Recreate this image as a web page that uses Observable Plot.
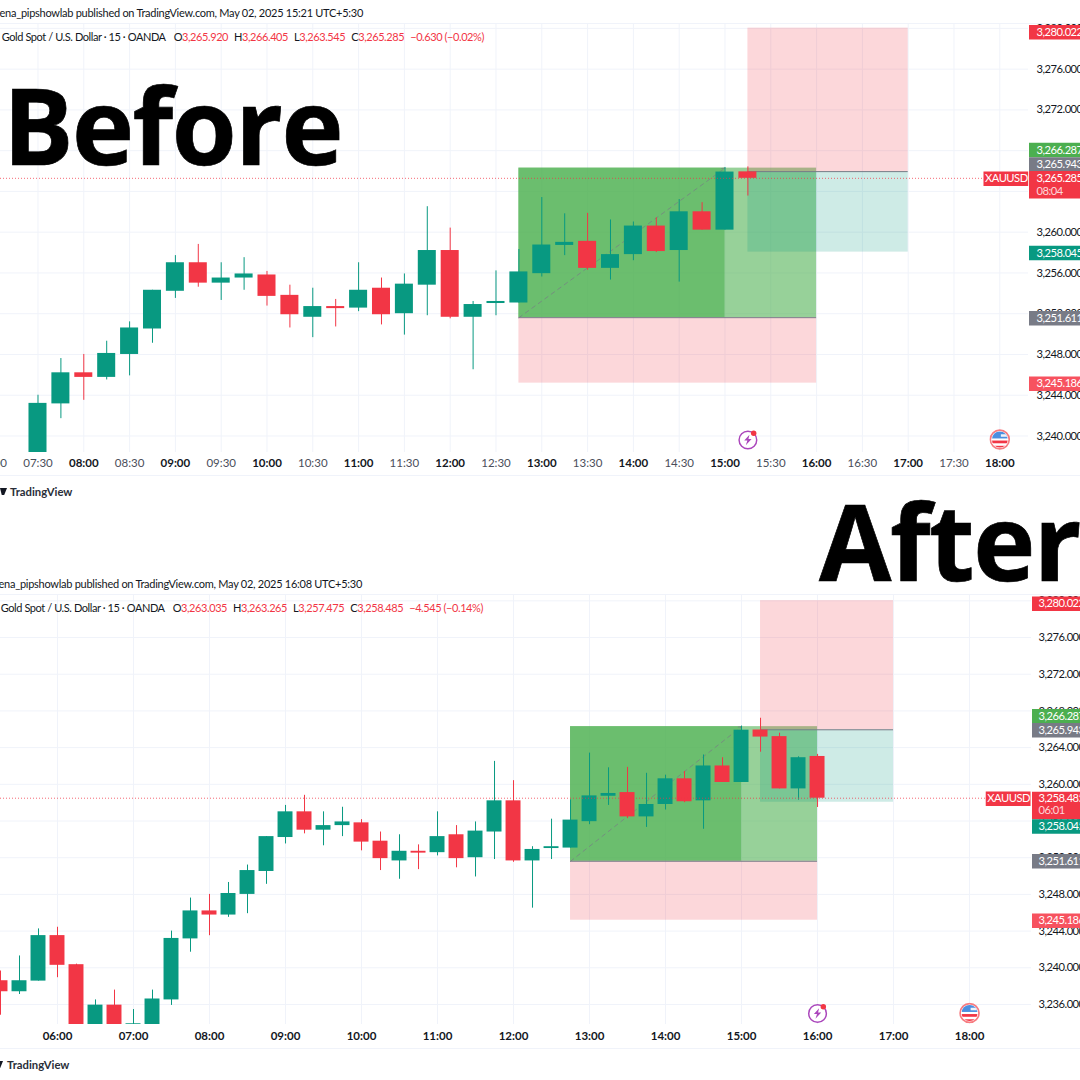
<!DOCTYPE html>
<html><head><meta charset="utf-8">
<script src="https://cdn.jsdelivr.net/npm/d3@7"></script>
<script src="https://cdn.jsdelivr.net/npm/@observablehq/plot@0.6"></script>
<style>
html,body{margin:0;padding:0;background:#fff;width:1080px;height:1080px;overflow:hidden}
#page{position:relative;width:1080px;height:1080px;overflow:hidden;font-family:Lato,sans-serif;color:#131722}
.pane{position:absolute;left:0}
.pane svg{display:block;overflow:hidden;background:transparent}
.pane svg [aria-label="y-axis tick label"],.pane svg [aria-label="text"]{letter-spacing:-.5px}
.t{position:absolute;white-space:nowrap;line-height:1}
.big{font-family:"Open Sans",sans-serif;font-weight:700;color:#000;font-size:105px;letter-spacing:-1.5px;-webkit-text-stroke:.7px #000}
.r{color:#f23645}
.g{margin-left:6px}
.hr{position:absolute;left:0;width:1080px;height:1px;background:#f0f3fa}
.logo{position:absolute;width:7px;height:7px;background:#131722;clip-path:polygon(0 0,100% 0,60% 100%,25% 100%)}
</style></head><body><div id="page"></div>
<script>
// shared 15-minute candles (XAUUSD)
const times=["05:15","05:30","05:45","06:00","06:15","06:30","06:45","07:00","07:15","07:30","07:45","08:00","08:15","08:30","08:45","09:00","09:15","09:30","09:45","10:00","10:15","10:30","10:45","11:00","11:15","11:30","11:45","12:00","12:15","12:30","12:45","13:00","13:15","13:30","13:45","14:00","14:15","14:30","14:45","15:00"];
const opens=[3238.59,3237.39,3238.55,3243.51,3240.34,3233.4,3235.93,3233.5,3233.8,3236.5,3243.15,3246.2,3245.75,3248,3250.5,3254.2,3257,3255,3255.5,3255.8,3253.8,3251.65,3252.7,3252.55,3254.5,3252,3254.8,3258.2,3251.65,3253,3253.05,3255.93,3258.7,3259.1,3256.45,3257.8,3260.6,3258.2,3262,3260.2];
const closes=[3237.39,3238.59,3243.51,3240.27,3233.4,3235.93,3233.4,3233.9,3236.6,3243.2,3246.2,3245.75,3248.1,3250.6,3254.3,3257,3255,3255.5,3255.9,3253.7,3251.9,3252.7,3252.5,3254.3,3251.9,3254.9,3258.2,3251.65,3252.9,3253.2,3256.1,3258.74,3259,3256.45,3257.8,3260.6,3258.1,3262,3260.2,3265.9];
const highs=[3239.65,3241.29,3244.24,3244.42,3240.4,3236.5,3237.57,3235.45,3237.57,3244,3247.6,3248,3249.3,3251.2,3254.3,3257.7,3258.8,3257,3257.5,3256.15,3254.8,3254.5,3253.4,3257,3255.5,3255.9,3262.5,3260.4,3253.2,3256.2,3258.3,3263.4,3261.8,3261.85,3261.2,3261,3261.4,3263.2,3262.9,3266.35];
const lows=[3234.83,3237.09,3238.55,3238.92,3233.3,3233.3,3233.3,3233.4,3233.7,3235.9,3241.7,3243.5,3245.5,3245.9,3249.1,3253.5,3254.6,3253.3,3254.3,3252.75,3250.6,3249.65,3250.7,3252.2,3250.9,3249.9,3251.8,3251.5,3246.5,3251.8,3253.05,3255.6,3257.7,3256.26,3255.3,3257.2,3258,3255.1,3260.2,3260.2];
// candles only in each snapshot
const beforeTimes=["15:15"],beforeO=[3265.92],beforeH=[3266.405],beforeL=[3263.545],beforeC=[3265.285];
const afterTimes=["15:15","15:30","15:45","16:00"],afterO=[3265.92,3265.2,3259.5,3263.035],afterH=[3267.2,3265.57,3263,3263.265],afterL=[3263.5,3259.5,3258.27,3257.475],afterC=[3265.15,3259.5,3262.9,3258.485];
// trade levels
const lvlTarget=3280.022,lvlGreenTop=3266.287,lvlEntry2=3265.943,lvlTp2=3258.045,lvlEntry1=3251.611,lvlStop1=3245.186;
// axis ticks
const beforePrices=[3240,3244,3248,3252,3256,3260,3264,3268,3272,3276,3280];
const afterPrices=[3236,3240,3244,3248,3252,3256,3260,3264,3268,3272,3276,3280];
const beforeMajor=["08:00","09:00","10:00","11:00","12:00","13:00","14:00","15:00","16:00","17:00","18:00"];
const beforeMinor=["07:00","07:30","08:30","09:30","10:30","11:30","12:30","13:30","14:30","15:30","16:30","17:30"];
const afterMajor=["06:00","07:00","08:00","09:00","10:00","11:00","12:00","13:00","14:00","15:00","16:00","17:00","18:00"];
const GREEN="#089981",RED="#f23645",GREY="#787b86";
const min=s=>{const[a,b]=s.split(":").map(Number);return a*60+b};
const rows=(T,O,H,L,C)=>T.map((t,i)=>({t:min(t),o:O[i],h:H[i],l:L[i],c:C[i]}));
const shared=rows(times,opens,highs,lows,closes);
const flag="data:image/svg+xml,"+encodeURIComponent('<svg xmlns="http://www.w3.org/2000/svg" viewBox="0 0 20 20"><circle cx="10" cy="10" r="9" fill="#fff" stroke="#f77c80" stroke-width="1.6"/><clipPath id="c"><circle cx="10" cy="10" r="7.6"/></clipPath><g clip-path="url(#c)"><rect width="20" height="20" fill="#fff"/><rect x="2" y="2" width="16" height="7" fill="#4b8fe0"/><rect x="11" y="5" width="8" height="2.4" fill="#f0f3fa"/><rect y="11" width="20" height="2.6" fill="#f23645"/><rect y="16" width="20" height="3" fill="#f23645"/></g></svg>');
const bolt="data:image/svg+xml,"+encodeURIComponent('<svg xmlns="http://www.w3.org/2000/svg" viewBox="0 0 20 20"><circle cx="10" cy="10.5" r="8.4" fill="#fff" stroke="#ab47bc" stroke-width="1.4"/><path d="M11.5 5.5 L6.5 11 H9.5 L8 15.5 L13.5 9.5 H10.5 Z" fill="#ab47bc"/><circle cx="15.5" cy="4" r="2.6" fill="#f23645"/></svg>');

function chart(o){
  const candles=[...shared,...o.last];
  const ins=o.ins,mid=o.boxMid,right=o.boxRight,far=o.farRight,s=o.s2;
  const rectZ=(x1,x2,y1,y2,fill,op)=>Plot.rect([{}],{x1:()=>x1,x2:()=>x2,y1:()=>y1,y2:()=>y2,fill,fillOpacity:op});
  return Plot.plot({
    width:1080,height:o.h,marginLeft:0,marginRight:1080-o.paneR,marginTop:o.mt,marginBottom:o.mb,
    x:{type:"linear",domain:o.xd,axis:null},y:{domain:o.yd,axis:null},
    style:{fontFamily:'Lato,sans-serif',background:"transparent"},
    marks:[
      Plot.gridY(o.prices,{stroke:"#f0f3fa",strokeOpacity:1,strokeWidth:1}),
      Plot.gridX(o.grid,{stroke:"#f0f3fa",strokeOpacity:1,strokeWidth:1}),
      // zones
      rectZ(ins,right,lvlEntry1,lvlGreenTop,"#4caf50",.58),
      rectZ(ins,mid,lvlEntry1,lvlGreenTop,"#4caf50",.58),
      rectZ(ins,right,lvlStop1,lvlEntry1,RED,.2),
      rectZ(s,far,lvlEntry2,lvlTarget,RED,.2),
      rectZ(s,far,lvlTp2,lvlEntry2,GREEN,.2),
      Plot.ruleY([lvlEntry1],{x1:()=>ins,x2:()=>right,stroke:GREY,strokeWidth:1}),
      Plot.ruleY([lvlEntry2],{x1:()=>s,x2:()=>far,stroke:GREY,strokeWidth:1}),
      Plot.arrow([{}],{x1:()=>ins,y1:()=>lvlEntry1,x2:()=>mid,y2:()=>lvlGreenTop,stroke:GREY,strokeWidth:1,strokeOpacity:.7,strokeDasharray:"4,4",headLength:5,bend:false}),
      // candles
      Plot.ruleX(candles,{x:"t",y1:"l",y2:"h",stroke:d=>d.c>=d.o?GREEN:RED,strokeWidth:1,clip:true}),
      Plot.rect(candles,{x1:d=>d.t-5.9,x2:d=>d.t+5.9,y1:"o",y2:"c",fill:d=>d.c>=d.o?GREEN:RED,clip:true}),
      // last-price line
      Plot.ruleY([o.lastP],{x1:()=>o.xd[0],x2:()=>o.tagL,stroke:RED,strokeWidth:1,strokeOpacity:.75,strokeDasharray:"1,2"}),
      // axes
      Plot.axisY(o.prices,{anchor:"right",tickSize:0,tickPadding:o.ypad,tickFormat:d3.format(",.3f"),textAnchor:"start",fontSize:o.fs,fill:"#131722",label:null}),
      Plot.axisX(o.major,{anchor:"bottom",tickSize:0,tickPadding:o.xpad,tickFormat:o.fmt,fontSize:11.5,fontWeight:700,fill:"#131722",label:null}),
      ...(o.minor.length?[Plot.axisX(o.minor,{anchor:"bottom",tickSize:0,tickPadding:o.xpad,tickFormat:o.fmt,fontSize:11.5,fill:"#4a4e5a",label:null})]:[]),
      // price tags
      ...o.tags.map(d=>Plot.ruleY([d],{y:"p",x1:()=>o.xd[1]+1/o.k,x2:()=>o.xd[1]+80,stroke:d.c,strokeWidth:d.w,dy:d.dy})),
      ...o.tags.map(d=>Plot.text([d],{y:"p",text:"txt",frameAnchor:"left",dx:o.paneR+o.ypad,dy:d.tdy,textAnchor:"start",fill:"#fff",fontSize:o.fs})),
      Plot.text([o.clock],{y:()=>o.lastP,text:d=>d,frameAnchor:"left",dx:o.paneR+o.ypad,dy:o.clockDy,textAnchor:"start",fill:"#fff",fillOpacity:.8,fontSize:o.fs}),
      Plot.ruleY([o.lastP],{x1:()=>o.tagL,x2:()=>o.tagR,stroke:RED,strokeWidth:14.5,dy:o.tagDy}),
      Plot.text(["XAUUSD"],{y:()=>o.lastP,x:()=>(o.tagL+o.tagR)/2,text:d=>d,fill:"#fff",fontSize:o.fs,dy:o.tagDy}),
      Plot.image([min("15:00")+o.boltOff],{x:d=>d,frameAnchor:"bottom",dy:o.iconDy,src:()=>bolt,width:21,height:21}),
      Plot.image([min("18:00")],{x:d=>d,frameAnchor:"bottom",dy:o.iconDy,src:()=>flag,width:21,height:21})
    ]
  });
}
const hhmm=d=>String(Math.floor(d/60)).padStart(2,"0")+":"+String(d%60).padStart(2,"0");
const page=document.getElementById("page");
function addPane(top,svg){const d=document.createElement("div");d.className="pane";d.style.top=top+"px";d.appendChild(svg);page.appendChild(d)}
const tag=(p,txt,c,w,dy,tdy)=>({p,txt,c,w,dy,tdy:tdy===undefined?dy:tdy});

addPane(0,chart({
  h:480,mt:24,mb:28,paneR:1028,k:1.5267,xd:[425.44,1098.8],yd:[3238.38,3280.38],prices:beforePrices,
  last:rows(beforeTimes,beforeO,beforeH,beforeL,beforeC),
  ins:min("12:45"),boxMid:min("15:00"),boxRight:min("16:00"),s2:min("15:15"),farRight:min("17:00"),
  grid:[...beforeMajor,...beforeMinor].map(min),major:beforeMajor.map(min),minor:beforeMinor.map(min),fmt:hhmm,
  lastP:3265.285,tagL:425.44+983.5/1.5267,tagR:425.44+1028.2/1.5267,tagDy:0.5,ypad:8,xpad:6,fs:11.2,iconDy:-13,
  boltOff:15,clock:"08:04",clockDy:13,
  tags:[tag(lvlTarget,"3,280.022",RED,14.5,4),tag(lvlGreenTop,"3,266.287","#4caf50",14.5,-18),tag(lvlEntry2,"3,265.943",GREY,14.5,-7),
        tag(3265.285,"3,265.285",RED,27.5,6.5,0.5),tag(lvlTp2,"3,258.045",GREEN,14.5,1),tag(lvlEntry1,"3,251.611",GREY,14.5,.5),tag(lvlStop1,"3,245.186","#f7525f",14.5,.5)]
}));
addPane(540,chart({
  h:520,mt:54,mb:36,paneR:1031,k:1.2667,xd:[315,1128.9],yd:[3233.82,3280.69],prices:afterPrices,
  last:rows(afterTimes,afterO,afterH,afterL,afterC),
  ins:min("12:45"),boxMid:min("15:00"),boxRight:min("16:00"),s2:min("15:15"),farRight:min("17:00"),
  grid:afterMajor.map(min),major:afterMajor.map(min),minor:[],fmt:hhmm,
  lastP:3258.485,tagL:315+985.7/1.2667,tagR:315+1030.5/1.2667,tagDy:0.5,ypad:7,xpad:7,fs:11.2,iconDy:-11.5,
  boltOff:60,clock:"06:01",clockDy:12.5,
  tags:[tag(lvlTarget,"3,280.022",RED,14.5,3),tag(lvlGreenTop,"3,266.287","#4caf50",14.5,-10.4),tag(lvlEntry2,"3,265.943",GREY,14.5,.5),
        tag(3258.485,"3,258.485",RED,27.5,7.3,0.5),tag(lvlTp2,"3,258.045",GREEN,14.5,24.2),tag(lvlEntry1,"3,251.611",GREY,14.5,0),tag(lvlStop1,"3,245.186","#f7525f",14.5,.5)]
}));

function text(html,css,cls){const d=document.createElement("div");d.className="t "+(cls||"");d.style.cssText=css;d.innerHTML=html;page.appendChild(d);return d}
const HF="font-size:11px;letter-spacing:-.27px;",LF="font-size:11px;letter-spacing:-.42px;";
const legend=(o,h,l,c,ch)=>`Gold Spot / U.S. Dollar · 15 · OANDA <span class="g">O</span><span class="r">${o}</span><span class="g">H</span><span class="r">${h}</span><span class="g">L</span><span class="r">${l}</span><span class="g">C</span><span class="r">${c}</span><span class="g r">${ch}</span>`;
text("ena_pipshowlab published on TradingView.com, May 02, 2025 15:21 UTC+5:30","right:717px;top:6.5px;"+HF);
text(legend("3,265.920","3,266.405","3,263.545","3,265.285","−0.630 (−0.02%)"),"right:596px;top:30.5px;"+LF);
text("ena_pipshowlab published on TradingView.com, May 02, 2025 16:08 UTC+5:30","right:718px;top:577.5px;"+HF);
text(legend("3,263.035","3,263.265","3,257.475","3,258.485","−4.545 (−0.14%)"),"right:597px;top:601.5px;"+LF);
text("Before","left:3px;top:72px;","big");
text("After","left:819px;top:488px;","big");
for(const y of [23,475,594,1048]){const h=document.createElement("div");h.className="hr";h.style.top=y+"px";page.appendChild(h)}
for(const [x,y] of [[0,488],[-4,1061]]){const l=document.createElement("div");l.className="logo";l.style.left=x+"px";l.style.top=y+"px";page.appendChild(l)}
text("TradingView","left:10px;top:485.5px;font-size:11.3px;color:#2a2e39;font-weight:700");
text("TradingView","left:7px;top:1058.5px;font-size:11.3px;color:#2a2e39;font-weight:700");
</script></body></html>
